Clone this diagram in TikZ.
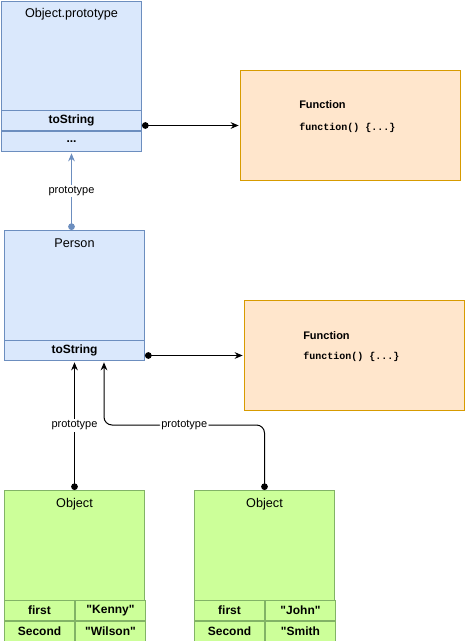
\documentclass[tikz,border=0pt]{standalone}
\usepackage{fontspec}
\setmainfont{Liberation Sans}[Ligatures=TeXOff]
\setmonofont{Liberation Mono}
\usetikzlibrary{positioning,arrows.meta}
\definecolor{protofill}{HTML}{DAE8FC}
\definecolor{protoline}{HTML}{6C8EBF}
\definecolor{funcfill}{HTML}{FFE6CC}
\definecolor{funcline}{HTML}{D79B00}
\definecolor{objfill}{HTML}{CCFF99}
\definecolor{objline}{HTML}{82B366}

\begin{document}
\begin{tikzpicture}[x=0.75pt,y=-0.75pt,
    box/.style={draw,line width=0.75pt,inner sep=0pt,anchor=north west},
    protobox/.style={box,draw=protoline,fill=protofill,minimum width=105pt},
    protorow/.style={protobox,minimum height=15pt,font=\fontsize{9pt}{11pt}\selectfont\bfseries},
    funcbox/.style={box,draw=funcline,fill=funcfill,minimum width=165pt,minimum height=82.5pt},
    objbox/.style={box,draw=objline,fill=objfill,minimum width=105pt,minimum height=112.5pt},
    objrow/.style={box,draw=objline,fill=objfill,minimum width=52.5pt,minimum height=15pt,font=\fontsize{9pt}{11pt}\selectfont\bfseries},
    title/.style={font=\fontsize{9.5pt}{11pt}\selectfont},
    fname/.style={anchor=west,inner sep=0pt,font=\fontsize{8.25pt}{10pt}\selectfont\bfseries},
    fcode/.style={anchor=west,inner sep=0pt,font=\fontsize{7.5pt}{9pt}\selectfont\ttfamily\bfseries},
    lbl/.style={fill=white,inner sep=1pt,font=\fontsize{8.25pt}{10pt}\selectfont},
    conn/.style={line width=0.75pt,{Circle[length=5pt]}-{Stealth[length=6pt,width=5pt]},shorten >=1pt},
    protoconn/.style={conn,draw=protoline,fill=protoline}]
  \useasboundingbox (0,0) rectangle (465,641);

  \node[protobox,minimum height=111.75pt] (objproto) at (1,1) {};
  \node[title] at ([yshift=-9.75pt]objproto.north) {Object.prototype};
  \node[protorow] (objtostr) at (1,110) {toString};
  \node[protorow,below=0pt of objtostr] (objmore) {...};

  \node[funcbox] (fun1) at (240,70) {};
  \node[fname] (fun1name) at (299,105) {Function};
  \node[fcode] (fun1code) at (299,128) {function() \{...\}};

  \node[protobox,minimum height=97.5pt] (person) at (4,230) {};
  \node[title] at ([yshift=-10pt]person.north) {Person};
  \node[protorow] (pertostr) at (4,340) {toString};

  \node[funcbox] (fun2) at (244,300) {};
  \node[fname] (fun2name) at (303,336) {Function};
  \node[fcode] (fun2code) at (303,357) {function() \{...\}};

  \node[objbox] (kobj) at (4,490) {};
  \node[title] at ([yshift=-10.5pt]kobj.north) {Object};
  \node[objrow] (kfirst) at (4,600) {first};
  \node[objrow,right=0pt of kfirst] (kname) {"Kenny"};
  \node[objrow,below=0pt of kfirst] (ksecond) {Second};
  \node[objrow,below=0pt of kname] (klast) {"Wilson"};

  \node[objbox] (jobj) at (194,490) {};
  \node[title] at ([yshift=-10.5pt]jobj.north) {Object};
  \node[objrow] (jfirst) at (194,600) {first};
  \node[objrow,right=0pt of jfirst] (jname) {"John"};
  \node[objrow,below=0pt of jfirst] (jsecond) {Second};
  \node[objrow,below=0pt of jname] (jlast) {"Smith};

  \coordinate (jbend) at (104,425);

  \draw[conn] (objtostr.east |- fun1.west) -- (fun1.west);
  \draw[conn] (pertostr.east |- fun2.west) -- (fun2.west);
  \draw[protoconn] (objmore.south |- person.north) -- node[lbl]{prototype} (objmore.south);
  \draw[conn] (kobj.north) -- node[lbl]{prototype} (pertostr.south);
  \draw[conn,rounded corners=6pt] (jobj.north) |- node[lbl,pos=0.75]{prototype} (jbend) -- (jbend |- pertostr.south);
\end{tikzpicture}
\end{document}
